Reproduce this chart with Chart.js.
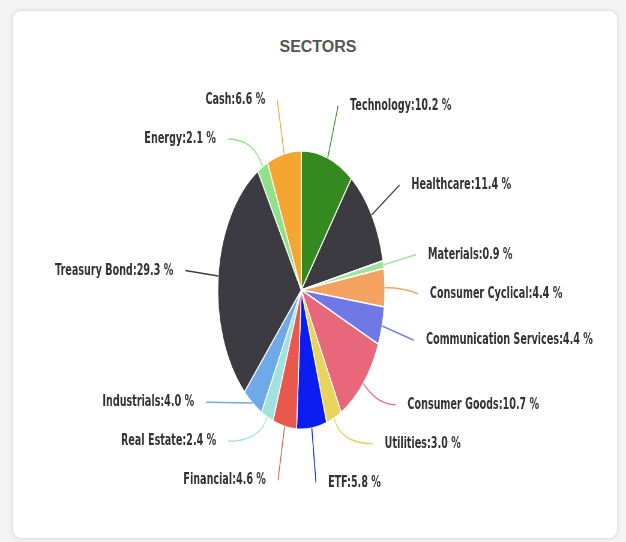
<!DOCTYPE html>
<html>
<head>
<meta charset="utf-8">
<script src="https://cdn.jsdelivr.net/npm/chart.js@4/dist/chart.umd.min.js"></script>
<style>
  html, body { margin: 0; padding: 0; }
  body { width: 626px; height: 542px; overflow: hidden; background: #f3f3f3; position: relative; }
  #card { position: absolute; left: 12px; top: 10px; width: 604px; height: 527px; background: #fff;
          border: 1px solid #e2e2e2; border-radius: 9px; box-shadow: 0 0 4px rgba(0,0,0,0.07); }
  #title { position: absolute; left: 12px; width: 612px; top: 38px; text-align: center;
           font-family: "Liberation Sans", Arial, sans-serif; font-weight: bold; font-size: 16px; color: #555; }
  #chart { position: absolute; left: 0; top: 0; width: 626px; height: 542px; }
</style>
</head>
<body>
<div id="card"></div>
<div id="title">SECTORS</div>
<canvas id="chart" width="1043" height="542" style="width:626px;height:542px"></canvas>
<script>
const categories = ['Technology', 'Healthcare', 'Materials', 'Consumer Cyclical', 'Communication Services',
  'Consumer Goods', 'Utilities', 'ETF', 'Financial', 'Real Estate', 'Industrials', 'Treasury Bond', 'Energy', 'Cash'];
const values = [10.2, 11.4, 0.9, 4.4, 4.4, 10.7, 3.0, 5.8, 4.6, 2.4, 4.0, 29.3, 2.1, 6.6];
const colors = ['#348a1e', '#3b3b41', '#9fe39c', '#f3a25f', '#6f78e6', '#e8677b', '#e9d45e', '#0a1ef2',
  '#e8584c', '#a2e2de', '#6eaae8', '#3b3b41', '#93e08a', '#f5a532'];

const LABEL_OFFSET = 55, LABEL_GAP = 39, TEXT_GAP = 20;

const outLabels = {
  id: 'outLabels',
  afterDatasetsDraw(chart) {
    const ctx = chart.ctx;
    const meta = chart.getDatasetMeta(0);
    const items = meta.data.map((arc, i) => {
      const p = arc.getProps(['x', 'y', 'startAngle', 'endAngle', 'outerRadius'], true);
      const mid = (p.startAngle + p.endAngle) / 2;
      const dx = Math.cos(mid), dy = Math.sin(mid);
      const R = p.outerRadius + LABEL_OFFSET;
      return { i, cx: p.x, cy: p.y, r: p.outerRadius, R, dx, dy, right: dx >= 0, ly: p.y + R * dy };
    });
    [true, false].forEach(side => {
      const s = items.filter(it => it.right === side);
      const top = s.filter(it => it.ly < it.cy).sort((a, b) => a.ly - b.ly);
      const bot = s.filter(it => it.ly >= it.cy).sort((a, b) => b.ly - a.ly);
      for (let k = 1; k < top.length; k++) top[k].ly = Math.max(top[k].ly, top[k - 1].ly + LABEL_GAP);
      for (let k = 1; k < bot.length; k++) bot[k].ly = Math.min(bot[k].ly, bot[k - 1].ly - LABEL_GAP);
      if (top.length && bot.length) {
        const a = top[top.length - 1], b = bot[bot.length - 1];
        const d = LABEL_GAP - (b.ly - a.ly);
        if (d > 0) { a.ly -= d / 2; b.ly += d / 2; }
      }
    });
    ctx.save();
    items.forEach(it => {
      const ddy = Math.max(-it.R, Math.min(it.R, it.ly - it.cy));
      const lx = it.cx + (it.right ? 1 : -1) * Math.sqrt(it.R * it.R - ddy * ddy);
      const ly = it.ly;
      const x0 = it.cx + it.r * it.dx, y0 = it.cy + it.r * it.dy;
      const dist = Math.hypot(lx - x0, ly - y0);
      let t = Math.abs(it.dy) > 0.05 ? (ly - y0) / it.dy : dist * 0.5;
      if (!(t > 0)) t = 0;
      if (t > dist) t = dist * 0.5;
      const qx = x0 + it.dx * t, qy = y0 + it.dy * t;
      ctx.beginPath();
      ctx.moveTo(x0, y0);
      ctx.quadraticCurveTo(qx, qy, lx, ly);
      ctx.strokeStyle = colors[it.i];
      ctx.lineWidth = 1.5;
      ctx.stroke();
      ctx.font = 'bold 16px "DejaVu Sans", sans-serif';
      ctx.fillStyle = '#333';
      ctx.textBaseline = 'middle';
      ctx.textAlign = it.right ? 'left' : 'right';
      const txt = categories[it.i] + ':' + values[it.i].toFixed(1) + ' %';
      ctx.fillText(txt, lx + (it.right ? TEXT_GAP : -TEXT_GAP), ly);
    });
    ctx.restore();
  }
};

new Chart(document.getElementById('chart'), {
  type: 'pie',
  data: {
    labels: categories,
    datasets: [{ data: values, backgroundColor: colors, borderColor: '#ffffff', borderWidth: 1.5 }]
  },
  options: {
    responsive: false,
    animation: false,
    layout: { padding: { top: 150, bottom: 112, left: 200, right: 239 } },
    plugins: { legend: { display: false }, tooltip: { enabled: false }, title: { display: false } }
  },
  plugins: [outLabels]
});
</script>
</body>
</html>
